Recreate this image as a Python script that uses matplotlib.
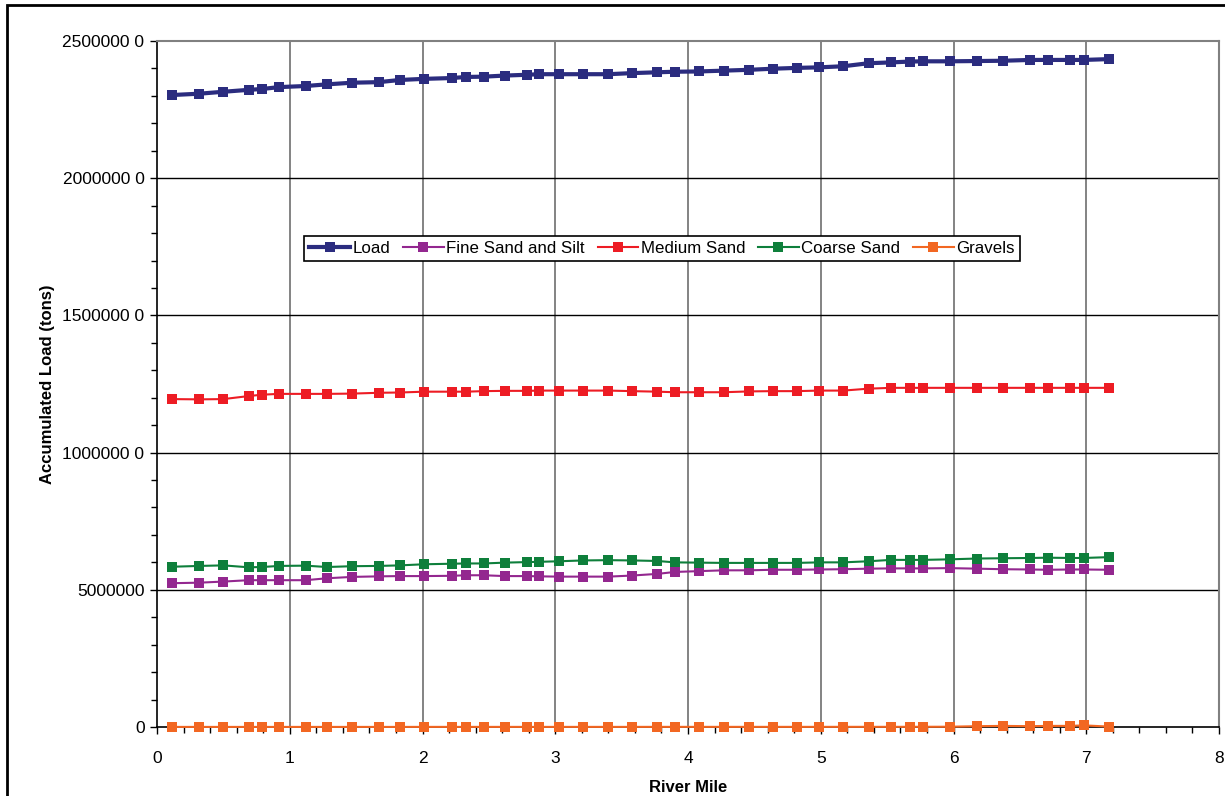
import matplotlib
matplotlib.use("Agg")
import matplotlib.pyplot as plt
from matplotlib.ticker import MultipleLocator, FixedLocator, FixedFormatter
from matplotlib.patches import Rectangle

plt.rcParams['font.family'] = ['Liberation Sans', 'DejaVu Sans']

river_mile = [0.11, 0.32, 0.50, 0.69, 0.79, 0.92, 1.12, 1.28, 1.47, 1.67, 1.83,
              2.01, 2.22, 2.33, 2.46, 2.62, 2.79, 2.88, 3.03, 3.21, 3.40, 3.58,
              3.77, 3.90, 4.08, 4.27, 4.46, 4.64, 4.82, 4.99, 5.17, 5.36, 5.53,
              5.67, 5.77, 5.97, 6.18, 6.37, 6.58, 6.71, 6.88, 6.98, 7.17]

load_m = [23.03, 23.08, 23.15, 23.22, 23.25, 23.32, 23.36, 23.42, 23.48, 23.50, 23.58,
          23.62, 23.65, 23.69, 23.70, 23.74, 23.77, 23.79, 23.79, 23.79, 23.79, 23.83,
          23.86, 23.88, 23.89, 23.92, 23.95, 23.99, 24.02, 24.04, 24.08, 24.19, 24.22,
          24.25, 24.26, 24.26, 24.27, 24.28, 24.31, 24.31, 24.31, 24.31, 24.34]

fine_m = [5.24, 5.26, 5.30, 5.35, 5.35, 5.35, 5.35, 5.42, 5.47, 5.49, 5.50,
          5.50, 5.51, 5.53, 5.53, 5.50, 5.50, 5.49, 5.48, 5.48, 5.48, 5.52,
          5.58, 5.65, 5.68, 5.71, 5.71, 5.73, 5.73, 5.74, 5.75, 5.77, 5.78,
          5.78, 5.78, 5.79, 5.77, 5.75, 5.74, 5.73, 5.74, 5.74, 5.73]

medium_m = [11.95, 11.94, 11.95, 12.06, 12.11, 12.14, 12.14, 12.14, 12.15, 12.18, 12.19,
            12.22, 12.22, 12.22, 12.24, 12.25, 12.25, 12.26, 12.26, 12.26, 12.26, 12.24,
            12.22, 12.20, 12.20, 12.20, 12.23, 12.24, 12.24, 12.26, 12.26, 12.33, 12.36,
            12.36, 12.36, 12.36, 12.36, 12.36, 12.36, 12.36, 12.36, 12.36, 12.36]

coarse_m = [5.84, 5.87, 5.89, 5.82, 5.83, 5.87, 5.88, 5.83, 5.86, 5.87, 5.89,
            5.93, 5.95, 5.96, 5.96, 5.99, 6.01, 6.02, 6.04, 6.07, 6.08, 6.07,
            6.05, 6.00, 5.99, 5.98, 5.98, 5.98, 5.98, 6.00, 6.00, 6.04, 6.09,
            6.09, 6.09, 6.11, 6.14, 6.15, 6.16, 6.17, 6.16, 6.16, 6.19]

gravel_m = [0.003, 0.003, 0.003, 0.003, 0.003, 0.003, 0.003, 0.003, 0.003, 0.003, 0.003,
            0.004, 0.004, 0.004, 0.004, 0.004, 0.004, 0.004, 0.004, 0.004, 0.004, 0.004,
            0.005, 0.005, 0.005, 0.005, 0.005, 0.005, 0.005, 0.005, 0.006, 0.006, 0.006,
            0.007, 0.008, 0.010, 0.030, 0.040, 0.030, 0.040, 0.040, 0.060, 0.015]

series_names = ["Load", "Fine Sand and Silt", "Medium Sand", "Coarse Sand", "Gravels"]
series_vals = [load_m, fine_m, medium_m, coarse_m, gravel_m]
series_colors = ["#2B2C7F", "#93278F", "#ED1C24", "#0E7F3B", "#F26722"]
series_lw = [3.0, 1.5, 1.5, 1.5, 1.5]

y_ticks = [0, 5e6, 10e6, 15e6, 20e6, 25e6]
y_tick_labels = ["0", "5000000", "1000000 0", "1500000 0", "2000000 0", "2500000 0"]
x_ticks = [0, 1, 2, 3, 4, 5, 6, 7, 8]

fig = plt.figure(figsize=(12.25, 7.96), dpi=100)
ax = fig.add_axes([157/1225, 1-727/796, (1219-157)/1225, (727-41)/796])

for name, vals, c, lw in zip(series_names, series_vals, series_colors, series_lw):
    ax.plot(river_mile, [v * 1e6 for v in vals], color=c, lw=lw, marker='s',
            markersize=6.5, markeredgewidth=0, label=name, clip_on=False, zorder=3)

ax.set_xlim(0, 8)
ax.set_ylim(0, 25e6)
ax.xaxis.set_major_locator(FixedLocator(x_ticks))
ax.xaxis.set_minor_locator(MultipleLocator(0.2))
ax.yaxis.set_major_locator(FixedLocator(y_ticks))
ax.yaxis.set_major_formatter(FixedFormatter(y_tick_labels))
ax.yaxis.set_minor_locator(MultipleLocator(1e6))

ax.tick_params(axis='both', which='major', direction='out', length=5, width=1,
               labelsize=12.5, colors='black')
ax.tick_params(axis='x', which='major', pad=12)
ax.tick_params(axis='y', which='major', pad=4)
ax.tick_params(axis='both', which='minor', direction='out', length=4, width=1)

for x in x_ticks[1:]:
    ax.axvline(x, color='#6e6e6e', lw=1.2, zorder=1)
for y in y_ticks[1:-1]:
    ax.axhline(y, color='black', lw=1.0, zorder=1)

ax.spines['left'].set_color('black')
ax.spines['bottom'].set_color('black')
ax.spines['left'].set_linewidth(1.2)
ax.spines['bottom'].set_linewidth(1.2)
ax.spines['top'].set_color('#808080')
ax.spines['right'].set_color('#808080')
ax.spines['top'].set_linewidth(1.5)
ax.spines['right'].set_linewidth(1.5)

ax.set_xlabel("River Mile", fontsize=12, fontweight='bold', labelpad=10)
ax.set_ylabel("Accumulated Load (tons)", fontsize=12, fontweight='bold', labelpad=5)

leg = ax.legend(loc='center', bbox_to_anchor=(0.4755, 0.697), ncol=5, fontsize=12.2,
                frameon=True, fancybox=False, framealpha=1, edgecolor='black',
                handlelength=2.4, handletextpad=0.15, columnspacing=0.75,
                borderpad=0.3, borderaxespad=0)
leg.get_frame().set_linewidth(1.2)
leg.set_zorder(5)

fig.patches.append(Rectangle((7/1225, -0.1), 1.2, 1 - 5/796 + 0.1, transform=fig.transFigure,
                             fill=False, edgecolor='black', lw=2))

fig.savefig("out.png", dpi=100)
